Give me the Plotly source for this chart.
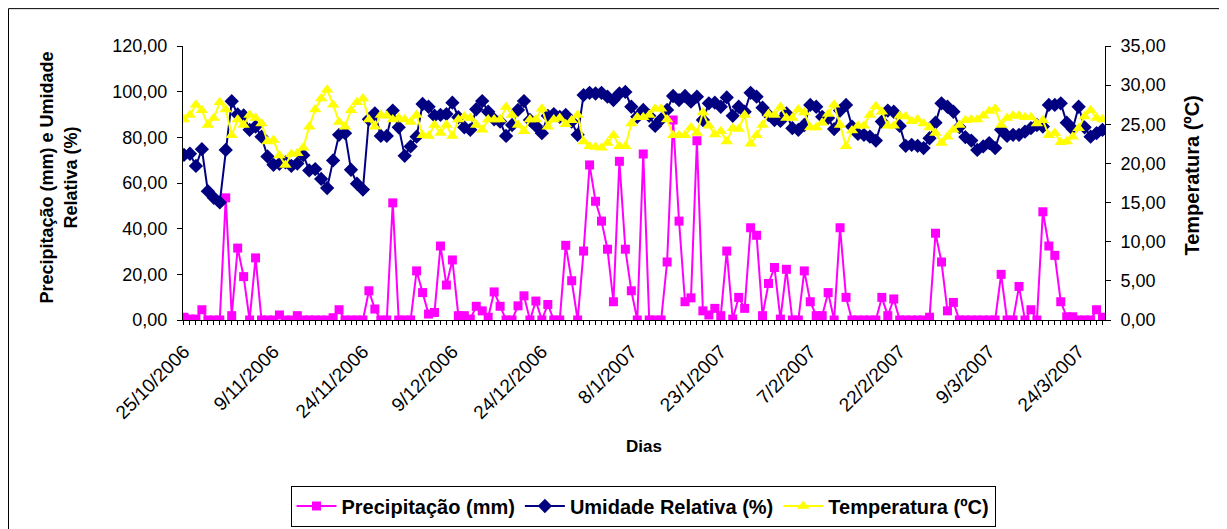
import plotly.graph_objects as go
import pandas as pd

# ---- data ----
dias = pd.date_range("2006-10-25", "2007-03-28", freq="D")

precipitacao = [
    1.2, 0.4, 0.4, 4.5, 0, 0, 0, 53.5, 1.9, 31.5,
    19, 0, 27.2, 0, 0, 0, 2.2, 0, 0, 1.9,
    0, 0, 0, 0, 0, 1, 4.5, 0, 0, 0,
    0, 12.8, 4.8, 0, 0, 51.3, 0, 0, 0, 21.5,
    12, 2.6, 3.3, 32.4, 15.3, 26.3, 1.9, 1.9, 0.4, 6,
    4, 1.2, 12.3, 6, 0, 0, 6.2, 10.6, 0, 8.3,
    0, 6.8, 0, 0, 32.7, 17.2, 0, 30.2, 67.9, 52,
    43.3, 31, 8, 69.5, 31, 12.8, 0, 72.7, 0, 0,
    0, 25.4, 87.6, 43.3, 8, 9.7, 78.5, 4, 2.2, 5.1,
    1.9, 30.2, 0.4, 9.9, 5.1, 40.4, 37.1, 1.9, 16, 23,
    0.4, 22.2, 0, 0, 21.5, 8, 1.9, 1.9, 12, 0,
    40.4, 9.9, 0, 0, 0, 0, 0, 9.9, 1.9, 9.2,
    0, 0, 0, 0, 0, 1.2, 38, 25.4, 4, 7.7,
    0, 0, 0, 0, 0, 0, 0, 20, 0, 0,
    14.7, 0, 4.5, 0, 47.4, 32.4, 28.3, 8, 1.4, 1.4,
    0, 0, 0, 4.5, 1.2,
]

umidade = [
    72.3, 72.8, 67.5, 74.8, 56.4, 53.5, 51.5, 74.5, 95.8, 90,
    89.6, 83.3, 84.7, 80.3, 71.6, 68, 68.4, 69, 67.5, 68.5,
    72.2, 65.5, 66.1, 61.8, 57.8, 69.9, 81.1, 81.8, 65.8, 59.7,
    57.1, 87.9, 90.5, 80.6, 80.6, 91.7, 84.4, 71.9, 76, 80.3,
    94.6, 93.4, 89.5, 89.8, 90.2, 95.2, 88.8, 84.4, 83.3, 92.3,
    95.9, 91.2, 87.9, 86.9, 80.6, 85.4, 92, 95.9, 87.6, 85,
    81.8, 89.4, 90.2, 89, 89.8, 86.9, 81.1, 98.5, 99.5, 99.2,
    99.5, 97.8, 96.3, 99.2, 99.9, 93.4, 89, 92, 89.4, 85,
    87.9, 92, 98.1, 96.3, 98.1, 95.6, 97.8, 87.6, 94.9, 95.2,
    93.4, 97.5, 89.4, 93.4, 91.2, 99.5, 97.8, 93, 89.8, 87.6,
    87.2, 90.5, 84, 83.3, 85.4, 94.2, 93.4, 89, 88.5, 83.6,
    91.7, 94.2, 84.7, 81.5, 81.1, 80.3, 78.6, 86.9, 91.7, 91.2,
    85, 76.3, 76.7, 76.3, 75.3, 79.6, 86.4, 94.9, 93.4, 91.2,
    84.5, 80.1, 78.6, 74.5, 76, 77.5, 75.3, 83.3, 80.6, 81.1,
    81.1, 82.5, 84, 85.4, 84.7, 94.2, 94.2, 94.9, 86.4, 83.6,
    93.4, 84.4, 80.3, 81.8, 83.3,
]

temperatura = [
    25.6, 26.2, 27.5, 26.8, 24.9, 25.8, 27.8, 26.9, 23.6, 25.6,
    24.9, 26.2, 25.8, 25.1, 22.8, 23, 21, 19.8, 21.2, 21.3,
    22, 24.7, 26.9, 28.3, 29.4, 27.5, 25.3, 24.7, 26.8, 27.8,
    28.3, 25.6, 24.7, 26.2, 26.1, 25.6, 25.8, 25.6, 25.3, 26.2,
    23.6, 23.5, 24.9, 23.9, 24.9, 23.5, 25.6, 26, 25.8, 24.9,
    24.3, 25.6, 25.6, 25.6, 27.2, 26.2, 24.9, 24.1, 25.6, 25.6,
    27, 24.7, 25.6, 25.8, 25, 25.5, 26.2, 22.8, 22.2, 22.1,
    22, 22.6, 23.6, 22.2, 22.2, 25.1, 25.9, 25.9, 26.2, 27,
    27, 25.6, 23.6, 23.6, 23.6, 24.6, 23.9, 26.5, 24.8, 23.7,
    24.1, 22.8, 24.5, 24.4, 26.2, 22.5, 23.6, 24.9, 26.3, 26.2,
    27.2, 25.8, 25.8, 26.9, 26.5, 24.6, 24.6, 25.2, 26.3, 27.5,
    24.9, 22.2, 24.2, 24.8, 24.8, 26.2, 27.3, 26.6, 24.8, 24.8,
    26.1, 26, 25.4, 25.6, 25.1, 24.6, 23.9, 22.6, 23.4, 24.3,
    24.9, 25.5, 25.6, 25.6, 26.1, 26.7, 27, 24.9, 25.8, 26.1,
    26.1, 25.9, 25.9, 25.1, 25.5, 23.6, 23.9, 22.7, 22.8, 23.4,
    24.5, 26, 26.8, 25.8, 25.6,
]

nomes = ["Precipitação (mm)", "Umidade Relativa (%)", "Temperatura (ºC)"]

# ---- geometry (page pixels; the page body adds an 8 px offset) ----
OFF = 8
W, H = 1227, 529
PLOT_L, PLOT_R, PLOT_T, PLOT_B = 183, 1105, 46, 321   # plot box on the page
L = PLOT_L - OFF
T = PLOT_T - OFF
PW = PLOT_R - PLOT_L
PH = PLOT_B - PLOT_T
R = W - L - PW
B = H - T - PH

def px(xp):
    return (xp - PLOT_L) / PW

def py(yp):
    return (PLOT_B - yp) / PH

FONT = "Liberation Sans, Arial, sans-serif"
DAY = 86400000

fig = go.Figure()
fig.add_trace(go.Scatter(
    x=dias, y=precipitacao, name=nomes[0], mode="lines+markers",
    line=dict(color="#FF00FF", width=2),
    marker=dict(symbol="square", size=9, color="#FF00FF"),
    yaxis="y", xaxis="x"))
fig.add_trace(go.Scatter(
    x=dias, y=umidade, name=nomes[1], mode="lines+markers",
    line=dict(color="#000080", width=2),
    marker=dict(symbol="diamond", size=11, color="#000080"),
    yaxis="y", xaxis="x"))
fig.add_trace(go.Scatter(
    x=dias, y=temperatura, name=nomes[2], mode="lines+markers",
    line=dict(color="#FFFF00", width=2),
    marker=dict(symbol="triangle-up", size=11, color="#FFFF00"),
    yaxis="y2", xaxis="x"))

xr = [dias[0] - pd.Timedelta(hours=4), dias[-1] + pd.Timedelta(hours=10)]

ytickfont = dict(family=FONT, size=18, color="black")
xtickfont = dict(family=FONT, size=19, color="black")

fig.update_layout(
    width=W, height=H,
    margin=dict(l=L, r=R, t=T, b=B, pad=0),
    paper_bgcolor="white", plot_bgcolor="white",
    separators=",.",
    showlegend=True,
    legend=dict(
        orientation="h", x=px(643), y=py(506), xanchor="center", yanchor="middle",
        font=dict(family=FONT, size=20, color="black", weight="bold"),
        bordercolor="black", borderwidth=1, bgcolor="white",
        itemwidth=40, tracegroupgap=0,
    ),
    xaxis=dict(
        type="date", range=xr, showgrid=False, zeroline=False,
        showline=True, linecolor="black", linewidth=1,
        ticks="outside", ticklen=4, tickcolor="black",
        tick0="2006-10-25", dtick=15 * DAY, tickformat="%-d/%-m/%Y",
        tickangle=-45, tickfont=xtickfont, ticklabelstandoff=8,
        minor=dict(dtick=DAY, ticks="outside", ticklen=4, tickcolor="black"),
        anchor="y",
    ),
    xaxis2=dict(
        type="date", range=xr, overlaying="x", matches="x", anchor="y", side="bottom",
        showgrid=False, zeroline=False, showline=False, showticklabels=False,
        ticks="inside", ticklen=4, tickcolor="black",
        tick0="2006-10-25", dtick=15 * DAY,
        minor=dict(dtick=DAY, ticks="inside", ticklen=4, tickcolor="black"),
    ),
    yaxis=dict(
        range=[0, 120], dtick=20, tickformat=".2f", showgrid=False, zeroline=False,
        showline=True, linecolor="black", linewidth=1,
        ticks="outside", ticklen=5, tickcolor="black", tickfont=ytickfont,
        ticklabelstandoff=6,
    ),
    yaxis3=dict(
        range=[0, 120], dtick=20, overlaying="y", side="left", anchor="x",
        showgrid=False, zeroline=False, showline=False, showticklabels=False,
        ticks="inside", ticklen=5, tickcolor="black",
    ),
    yaxis2=dict(
        range=[0, 35], dtick=5, tickformat=".2f", overlaying="y", side="right",
        anchor="x", showgrid=False, zeroline=False,
        showline=True, linecolor="black", linewidth=1,
        ticks="outside", ticklen=5, tickcolor="black", tickfont=ytickfont,
        ticklabelstandoff=6,
    ),
    yaxis4=dict(
        range=[0, 35], dtick=5, overlaying="y", side="right", anchor="x",
        showgrid=False, zeroline=False, showline=False, showticklabels=False,
        ticks="inside", ticklen=5, tickcolor="black",
    ),
)

titlefont = dict(family=FONT, size=18, color="black", weight="bold")
fig.add_annotation(text="Precipitação (mm) e Umidade<br>Relativa (%)", textangle=-90,
                   xref="paper", yref="paper", x=px(59), y=py(178),
                   xanchor="center", yanchor="middle", showarrow=False, font=titlefont)
fig.add_annotation(text="Temperatura (ºC)", textangle=-90,
                   xref="paper", yref="paper", x=px(1192), y=py(176),
                   xanchor="center", yanchor="middle", showarrow=False,
                   font=dict(family=FONT, size=20, color="black", weight="bold"))
fig.add_annotation(text="Dias", xref="paper", yref="paper", x=px(644), y=py(448),
                   xanchor="center", yanchor="middle", showarrow=False,
                   font=dict(family=FONT, size=17, color="black", weight="bold"))

# chart-area frame
fig.add_shape(type="rect", xref="paper", yref="paper",
              x0=px(OFF + 0.5), x1=px(1221), y0=py(560), y1=py(OFF + 0.5),
              line=dict(color="black", width=1), fillcolor="rgba(0,0,0,0)", layer="below")

fig.write_html("out.html")
